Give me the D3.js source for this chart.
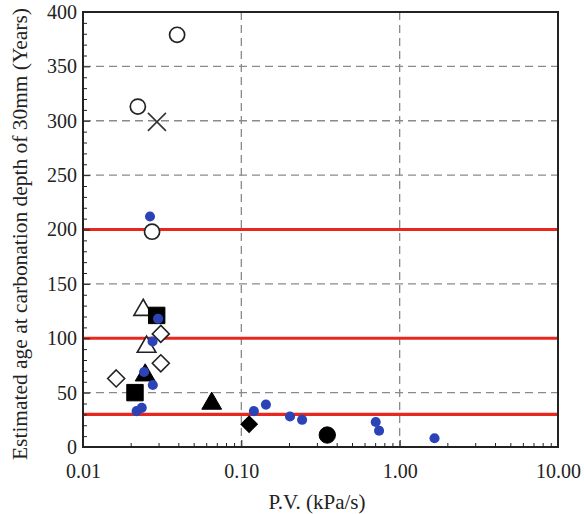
<!DOCTYPE html>
<html><head><meta charset="utf-8">
<script src="https://cdn.jsdelivr.net/npm/d3@7/dist/d3.min.js"></script>
<style>body{margin:0;background:#fff}</style>
</head><body><svg id="c" width="584" height="514"></svg>
<script>
const xTicks = [0.01, 0.1, 1, 10];
const xTickLabels = ["0.01", "0.10", "1.00", "10.00"];
const yTicks = [0, 50, 100, 150, 200, 250, 300, 350, 400];
const refLines = [30, 100, 200];

const openCircle = [[0.0393, 379], [0.0222, 313], [0.0273, 198]];
const crossPts = [[0.0293, 299]];
const openTriangle = [[0.0240, 126], [0.0252, 92]];
const openDiamond = [[0.0310, 104], [0.0310, 77], [0.0162, 63]];
const blackSquare = [[0.0292, 121], [0.0213, 50]];
const blackTriangle = [[0.0247, 66], [0.065, 40]];
const blackDiamond = [[0.112, 21]];
const blackCircle = [[0.349, 11]];
const blueDot = [[0.0265, 212], [0.0298, 118], [0.0275, 97], [0.0243, 69], [0.0276, 57],
  [0.0218, 33], [0.0235, 36], [0.120, 33], [0.143, 39], [0.203, 28], [0.242, 25],
  [0.706, 23], [0.741, 15], [1.66, 8]];

const m = {l: 83, r: 558, t: 12, b: 447};
const svg = d3.select("#c");
const x = d3.scaleLog().domain([0.01, 10]).range([m.l, m.r]);
const y = d3.scaleLinear().domain([0, 400]).range([m.b, m.t]);
const font = "'Liberation Serif', 'Times New Roman', serif";

// grid
const grid = svg.append("g").attr("stroke", "#8a8a8a").attr("stroke-width", 1.3).attr("stroke-dasharray", "8,5");
grid.selectAll("line.h").data(yTicks.filter(d => d > 0 && d < 400)).join("line")
  .attr("x1", m.l).attr("x2", m.r).attr("y1", d => y(d)).attr("y2", d => y(d));
grid.selectAll("line.v").data(xTicks.filter(d => d > 0.01 && d < 10)).join("line").attr("class","v")
  .attr("y1", m.t).attr("y2", m.b).attr("x1", d => x(d)).attr("x2", d => x(d));

// red lines
svg.append("g").selectAll("line").data(refLines).join("line")
  .attr("x1", m.l).attr("x2", m.r).attr("y1", d => y(d)).attr("y2", d => y(d))
  .attr("stroke", "#e8281e").attr("stroke-width", 3.2);

// axes
const minorX = [];
[0.01, 0.1, 1].forEach(d => { for (let i = 2; i <= 9; i++) minorX.push(d * i); });
const xAxisMinor = d3.axisBottom(x).tickValues(minorX).tickSize(-4).tickFormat("");
const xAxis = d3.axisBottom(x).tickValues(xTicks).tickSize(-7).tickPadding(17)
  .tickFormat((d, i) => xTickLabels[i]);
const minorY = d3.range(0, 401, 10).filter(d => d % 50 !== 0);
const yAxisMinor = d3.axisLeft(y).tickValues(minorY).tickSize(-4).tickFormat("");
const yAxis = d3.axisLeft(y).tickValues(yTicks).tickSize(-7).tickPadding(6);

function style(g) {
  g.select(".domain").remove();
  g.selectAll("line").attr("stroke", "#222").attr("stroke-width", 1);
  g.selectAll("text").attr("font-family", font).attr("font-size", 20).attr("fill", "#222");
}
svg.append("g").attr("transform", `translate(0,${m.b})`).call(xAxisMinor).call(style);
svg.append("g").attr("transform", `translate(0,${m.b})`).call(xAxis).call(style);
svg.append("g").attr("transform", `translate(${m.l},0)`).call(yAxisMinor).call(style);
svg.append("g").attr("transform", `translate(${m.l},0)`).call(yAxis).call(style);

// frame
svg.append("rect").attr("x", m.l).attr("y", m.t).attr("width", m.r - m.l).attr("height", m.b - m.t)
  .attr("fill", "none").attr("stroke", "#222").attr("stroke-width", 2);

// markers
const g = svg.append("g");
function sym(data, type, size, fill, stroke, sw) {
  g.append("g").selectAll("path").data(data).join("path")
    .attr("transform", d => `translate(${x(d[0])},${y(d[1])})`)
    .attr("d", d3.symbol().type(type).size(size)())
    .attr("fill", fill).attr("stroke", stroke).attr("stroke-width", sw);
}
sym(openCircle, d3.symbolCircle, 180, "#fff", "#222", 1.7);
g.append("g").selectAll("path").data(crossPts).join("path")
  .attr("transform", d => `translate(${x(d[0])},${y(d[1])})`)
  .attr("d", "M-9,-9L9,9M-9,9L9,-9").attr("stroke", "#333").attr("stroke-width", 1.6).attr("fill", "none");
sym(openTriangle, d3.symbolTriangle, 150, "#fff", "#222", 1.6);
g.append("g").selectAll("path").data(openDiamond).join("path")
  .attr("transform", d => `translate(${x(d[0])},${y(d[1])})`)
  .attr("d", "M0,-8.5L8.5,0L0,8.5L-8.5,0Z").attr("fill", "#fff").attr("stroke", "#222").attr("stroke-width", 1.6);
sym(blackSquare, d3.symbolSquare, 270, "#000", "#000", 1);
sym(blackTriangle, d3.symbolTriangle, 170, "#000", "#000", 1);
g.append("g").selectAll("path").data(blackDiamond).join("path")
  .attr("transform", d => `translate(${x(d[0])},${y(d[1])})`)
  .attr("d", "M0,-9L9,0L0,9L-9,0Z").attr("fill", "#000");
sym(blackCircle, d3.symbolCircle, 210, "#000", "#000", 1);
sym(blueDot, d3.symbolCircle, 80, "#2c43b8", "none", 0);

// labels
svg.append("text").attr("x", 317).attr("y", 509).attr("text-anchor", "middle")
  .attr("font-family", font).attr("font-size", 21).attr("fill", "#222").text("P.V.  (kPa/s)");
svg.append("text").attr("transform", `translate(27,234) rotate(-90)`).attr("text-anchor", "middle")
  .attr("font-family", font).attr("font-size", 20).attr("fill", "#222")
  .attr("textLength", 452).attr("lengthAdjust", "spacingAndGlyphs")
  .text("Estimated age at carbonation depth of 30mm (Years)");
</script></body></html>
